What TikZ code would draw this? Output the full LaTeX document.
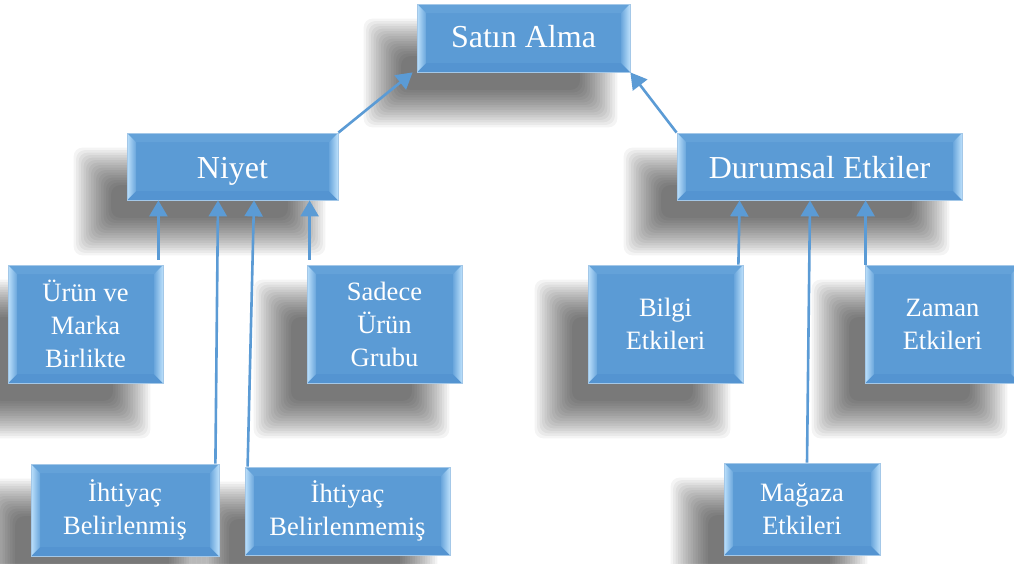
\documentclass[tikz,border=0pt]{standalone}
\usepackage{fontspec}
\setmainfont{Liberation Serif}
\newfontfamily\boxfont{Liberation Serif}
\usetikzlibrary{arrows.meta,calc}
\pgfdeclarelayer{shadowlayer}
\pgfsetlayers{shadowlayer,main}
\definecolor{boxblue}{HTML}{5B9BD5}
\definecolor{edgeblue}{HTML}{A4C8E8}
\definecolor{bevlight}{HTML}{BCE0FB}
\definecolor{bevmid}{HTML}{6AA6DC}
\definecolor{bevtop}{HTML}{64A2D9}
\definecolor{bevbot}{HTML}{5494D1}
\definecolor{linkblue}{HTML}{5B9BD5}
\tikzset{
  bevelbox/.style={
    draw=edgeblue, line width=0.8pt, fill=boxblue,
    text=white, align=center, inner sep=0pt,
    path picture={
      \path (path picture bounding box.north west) coordinate (bnw)
            (path picture bounding box.north east) coordinate (bne)
            (path picture bounding box.south west) coordinate (bsw)
            (path picture bounding box.south east) coordinate (bse);
      % top and bottom bevel faces
      \fill[bevtop] (bnw) -- (bne) -- ([xshift=-9pt,yshift=-9pt]bne)
        -- ([xshift=9pt,yshift=-9pt]bnw) -- cycle;
      \fill[bevbot] (bsw) -- (bse) -- ([xshift=-9pt,yshift=9pt]bse)
        -- ([xshift=9pt,yshift=9pt]bsw) -- cycle;
      % left and right bevel faces
      \shade[left color=bevlight, right color=bevmid]
        (bnw) -- ([xshift=9pt,yshift=-9pt]bnw) -- ([xshift=9pt,yshift=9pt]bsw)
        -- (bsw) -- cycle;
      \shade[left color=bevmid, right color=bevlight]
        (bne) -- ([xshift=-9pt,yshift=-9pt]bne) -- ([xshift=-9pt,yshift=9pt]bse)
        -- (bse) -- cycle;
    }},
  softlayer/.style={fill=black, opacity=0.045, rounded corners=9pt},
  bigtext/.style={font=\boxfont\fontsize{32}{38}\selectfont,
    text height=23pt, text depth=0pt},
  smalltext/.style={font=\boxfont\fontsize{26.5}{33}\selectfont},
  link/.style={draw=linkblue, line width=2.6pt,
    -{Triangle[width=18pt,length=16pt]}},
}
% soft drop shadow below and to the left of a node, built from stacked layers
\newcommand\dropshadow[1]{%
  \foreach \i in {0,...,15}{%
    \fill[softlayer] ($(#1.north west)+(-53+2.5*\i,-15-2.5*\i)$)
      rectangle ($(#1.south east)+(-13-2.5*\i,-55+2.5*\i)$);
  }%
}
\begin{document}
\begin{tikzpicture}[x=1pt,y=1pt]
  \useasboundingbox (0,0) rectangle (1014,-563);

  % top level
  \node[bevelbox, bigtext, minimum width=213pt, minimum height=68pt]
    (sa) at (523.5,-38) {\raisebox{2.5pt}{Satın Alma}};

  % second level
  \node[bevelbox, bigtext, minimum width=211pt, minimum height=67pt]
    (niyet) at (232.5,-166.5) {Niyet};
  \node[bevelbox, bigtext, minimum width=285pt, minimum height=67pt]
    (durum) at (819.5,-166.5) {Durumsal Etkiler};

  % intention types
  \node[bevelbox, smalltext, minimum width=155pt, minimum height=118pt]
    (urun) at (85.5,-324) {Ürün ve\\Marka\\Birlikte};
  \node[bevelbox, smalltext, minimum width=155pt, minimum height=118pt]
    (sadece) at (384.5,-324) {Sadece\\Ürün\\Grubu};
  \node[bevelbox, smalltext, minimum width=188pt, minimum height=92pt]
    (ib) at (125,-510) {İhtiyaç\\Belirlenmiş};
  \node[bevelbox, smalltext, minimum width=205pt, minimum height=88pt]
    (ibm) at (347.5,-511) {İhtiyaç\\Belirlenmemiş};

  % situational effects
  \node[bevelbox, smalltext, minimum width=155pt, minimum height=118pt]
    (bilgi) at (665.5,-324) {Bilgi\\Etkileri};
  \node[bevelbox, smalltext, minimum width=155pt, minimum height=118pt]
    (zaman) at (942.5,-324) {Zaman\\Etkileri};
  \node[bevelbox, smalltext, minimum width=156pt, minimum height=92pt]
    (magaza) at (802,-509) {Mağaza\\Etkileri};

  % connectors to the top
  \draw[link] (niyet.north east) -- ([xshift=-4pt]sa.south west);
  \draw[link] (durum.north west) -- (sa.south east);

  % connectors into Niyet
  \draw[link] ([xshift=-5pt,yshift=5pt]urun.north east) coordinate (u1)
    -- (u1 |- niyet.south);
  \draw[link] ([xshift=-4pt]ib.north east) -- ([xshift=-14.5pt]niyet.south);
  \draw[link] ([xshift=3pt]ibm.north west) -- ([xshift=21.5pt]niyet.south);
  \draw[link] ([xshift=3pt,yshift=5pt]sadece.north west) coordinate (s1)
    -- (s1 |- niyet.south);

  % connectors into Durumsal Etkiler
  \draw[link] ([xshift=-5pt]bilgi.north east) -- ([xshift=63pt]durum.south west);
  \draw[link] ([xshift=5pt]magaza.north) -- ([xshift=-9.5pt]durum.south);
  \draw[link] ([xshift=1pt]zaman.north west) coordinate (z1)
    -- (z1 |- durum.south);

  % white page and the drop shadows, behind everything else
  \begin{pgfonlayer}{shadowlayer}
    \fill[white] (0,0) rectangle (1014,-563);
    \dropshadow{sa}
    \dropshadow{niyet}
    \dropshadow{durum}
    \dropshadow{urun}
    \dropshadow{sadece}
    \dropshadow{ib}
    \dropshadow{ibm}
    \dropshadow{bilgi}
    \dropshadow{zaman}
    \dropshadow{magaza}
  \end{pgfonlayer}
\end{tikzpicture}
\end{document}
